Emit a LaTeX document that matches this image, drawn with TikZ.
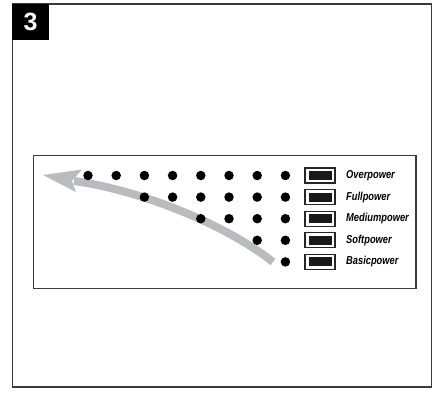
\documentclass[tikz,border=0pt]{standalone}
\usepackage{fontspec}
\setmainfont{Liberation Sans}
\newfontfamily\lblfont[FakeStretch=0.81]{Liberation Sans}
\definecolor{framegray}{HTML}{3A3A3A}
\definecolor{arrowgray}{HTML}{B9BBBE}
\tikzset{
  frame/.style={draw=framegray, line width=1.4pt},
  dot/.style={circle, fill=black, inner sep=0pt, minimum size=9.5pt},
  switchbox/.style={draw=black!85, line width=1.3pt, fill=white, minimum width=30pt, minimum height=15pt, inner sep=0pt},
  switchcore/.style={fill=black!90, minimum width=23pt, minimum height=9pt, inner sep=0pt},
  lbl/.style={anchor=west, inner sep=0pt, font=\lblfont\bfseries\itshape\fontsize{11.5}{13}\selectfont}
}
\begin{document}
\begin{tikzpicture}[x=1pt,y=-1pt]
\useasboundingbox (0,0) rectangle (440,392);
% outer frame
\draw[frame] (12.5,4) rectangle (431.5,387);
% number tab
\node[fill=black, minimum width=37pt, minimum height=36pt, inner sep=0pt, anchor=north west] (tab) at (12,4) {};
\node[text=white, font=\bfseries\fontsize{25}{28}\selectfont] (num) at (tab.center) {3};
% inner panel
\draw[frame] (33.5,155.5) rectangle (416,288.5);
% arrow
\draw[arrowgray, line width=8pt] (273,262) .. controls (225,224) and (140,190) .. (74,181);
\fill[arrowgray] (43,175) -- (82,169.5) -- (72,181) -- (76,192) -- cycle;
% dots
\foreach \r/\s in {0/0,1/2,2/4,3/6,4/7}{
  \pgfmathsetmacro{\yy}{175.5+21.6*\r}
  \foreach \c in {\s,...,7}{
    \node[dot] (d\r\c) at ({88+28.2*\c},\yy) {};
  }
}
% switches and labels
\foreach \r/\t in {0/Overpower,1/Fullpower,2/Mediumpower,3/Softpower,4/Basicpower}{
  \pgfmathsetmacro{\yy}{175.5+21.6*\r}
  \node[switchbox] (s\r) at (320,\yy) {};
  \node[switchcore] (k\r) at (s\r.center) {};
  \node[lbl] (l\r) at (346,\yy) {\t};
}
\end{tikzpicture}
\end{document}
